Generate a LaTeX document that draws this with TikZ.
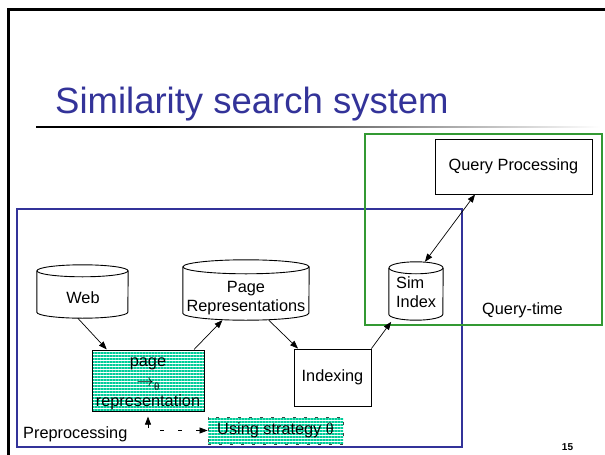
\documentclass[tikz,border=0pt]{standalone}
\usepackage{fontspec}
\setmainfont{Liberation Sans}
\newfontfamily\thetafont{Liberation Serif}
\usetikzlibrary{calc,arrows.meta,patterns.meta}
\definecolor{titleblue}{RGB}{51,51,153}
\definecolor{preblue}{RGB}{51,51,153}
\definecolor{qtgreen}{RGB}{51,153,51}
\definecolor{hatchc}{RGB}{0,204,153}
\newcommand\cylout[3]{%
  \draw[cylline] ($(#1.north west)+(0,-#3)$) -- ($(#1.south west)+(0,#3)$)
     arc[start angle=180,end angle=360,x radius=#2,y radius=#3] -- ($(#1.north east)+(0,-#3)$);
  \draw[cylline] ($(#1.north)+(0,-#3)$) ellipse[x radius=#2,y radius=#3];}
\begin{document}
\begin{tikzpicture}[x=1pt,y=1pt,
  lbl/.style={font=\fontsize{16.3}{19.5}\selectfont, inner sep=0pt},
  cylnode/.style={inner sep=0pt, draw=none},
  cylline/.style={line width=0.9pt, black},
  boxnode/.style={draw=black, line width=0.9pt, inner sep=0pt, font=\fontsize{16.3}{19.5}\selectfont},
  hatched/.style={pattern={Lines[angle=0,distance=3pt,line width=1.2pt]}, pattern color=hatchc},
  tipa/.tip={Triangle[length=8pt,width=6pt]},
  conn/.style={line width=0.7pt, -tipa},
  dconn/.style={line width=0.7pt, tipa-tipa, dash pattern=on 4pt off 14pt},
  grp/.style={inner sep=0pt, line width=1.1pt}]
\useasboundingbox (0,0) rectangle (605,-455);
\fill[white] (0,0) rectangle (605,-455);
% slide frame and title
\draw[line width=3pt] (605,-9) -- (8.7,-9) -- (8.7,-455);
\node[font=\fontsize{36.5}{40}\selectfont, text=titleblue, anchor=base west, inner sep=0pt] (title) at (55,-113) {Similarity search system};
\fill[black] (36,-126.2) rectangle (150,-127.8);
\shade[left color=black, right color=white] (150,-126.2) rectangle (600,-127.8);
% group boxes
\node[grp, draw=preblue, minimum width=445pt, minimum height=238pt] (pre) at (239.5,-328) {};
\node[grp, draw=qtgreen, line width=1.4pt, minimum width=237pt, minimum height=191pt] (qt) at (483.5,-229.5) {};
\node[lbl, anchor=west] (prelbl) at (23,-434) {Preprocessing};
\node[lbl] (qtlbl) at (522.5,-310) {Query-time};
% cylinders
\node[cylnode, minimum width=91pt, minimum height=53pt] (web) at (82.5,-291.5) {};
\cylout{web}{45.5}{6}
\node[lbl] (webtxt) at (83,-298) {Web};
\node[cylnode, minimum width=126pt, minimum height=60pt] (pr) at (246,-290) {};
\cylout{pr}{63}{7}
\node[lbl, align=center] (prtxt) at (246,-298) {Page\\Representations};
\node[cylnode, minimum width=54pt, minimum height=58pt] (sim) at (416,-291) {};
\cylout{sim}{27}{6}
\node[lbl, align=left, anchor=west] (simtxt) at (396,-292) {Sim\\Index};
% boxes
\node[boxnode, minimum width=157pt, minimum height=55pt] (qp) at (513.5,-166.5) {Query Processing};
\node[boxnode, minimum width=77pt, minimum height=57pt] (idx) at (332.5,-377.5) {Indexing};
\node[boxnode, hatched, minimum width=112pt, minimum height=61pt] (prep) at (148,-380.5) {};
\node[lbl, align=center, font=\fontsize{16.3}{19.8}\selectfont] (preptxt) at (148,-384)
  {page\\$\rightarrow$\raisebox{-4pt}{\fontsize{11}{12}\selectfont\thetafont θ}\\representation};
\node[boxnode, hatched, draw=black!75, dash pattern=on 3pt off 8pt, minimum width=135pt, minimum height=27pt] (using) at (275.5,-430.5)
  {Using strategy {\thetafont θ}};
% connectors
\draw[conn] (web.260) -- (prep.143);
\draw[conn] (prep.34) -- (pr.232);
\draw[conn] (pr.307) -- (idx.140);
\draw[conn, shorten >=2pt] (idx.north east) -- (sim.231);
\draw[conn, tipa-tipa] (qp.216) -- (sim.73);
\draw[dconn, shorten >=5pt] (using.west) -| (prep.south);
% page number
\node[font=\fontsize{10}{12}\selectfont\bfseries, inner sep=0pt] (pnum) at (567.5,-447) {15};
\end{tikzpicture}
\end{document}
